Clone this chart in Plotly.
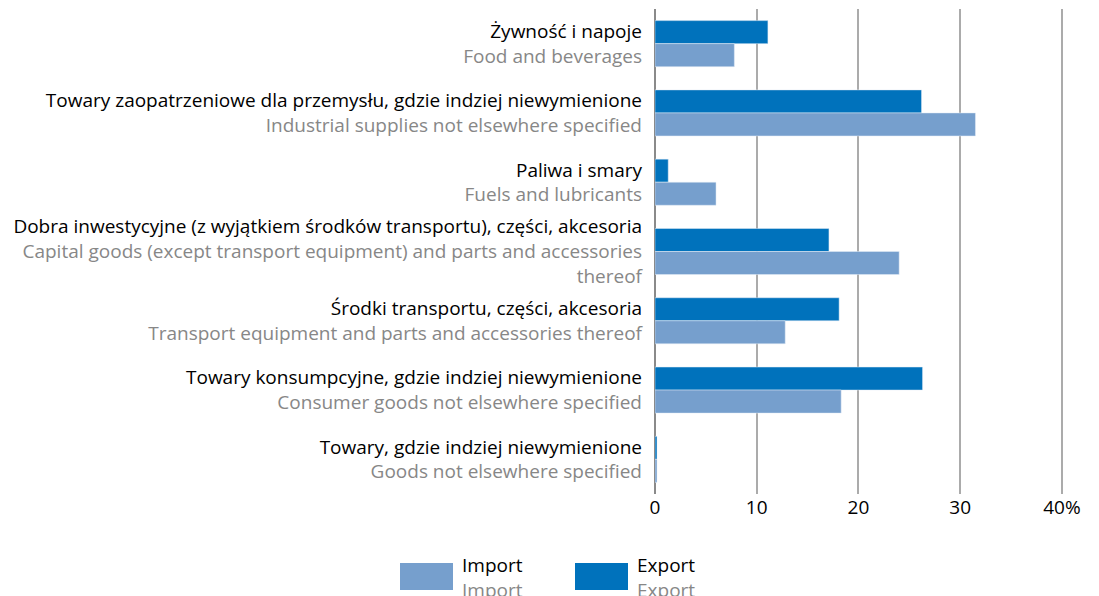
import plotly.graph_objects as go

categories_pl = [
    "Żywność i napoje",
    "Towary zaopatrzeniowe dla przemysłu, gdzie indziej niewymienione",
    "Paliwa i smary",
    "Dobra inwestycyjne (z wyjątkiem środków transportu), części, akcesoria",
    "Środki transportu, części, akcesoria",
    "Towary konsumpcyjne, gdzie indziej niewymienione",
    "Towary, gdzie indziej niewymienione",
]
categories_en = [
    "Food and beverages",
    "Industrial supplies not elsewhere specified",
    "Fuels and lubricants",
    "Capital goods (except transport equipment) and parts and accessories<br>thereof",
    "Transport equipment and parts and accessories thereof",
    "Consumer goods not elsewhere specified",
    "Goods not elsewhere specified",
]
export_vals = [11.1, 26.2, 1.3, 17.1, 18.1, 26.3, 0.2]
import_vals = [7.8, 31.5, 6.0, 24.0, 12.8, 18.3, 0.2]
x_tickvals = [0, 10, 20, 30, 40]
x_ticktext = ["0", "10", "20", "30", "40%"]
legend_pl = ["Import", "Export"]
legend_en = ["Import", "Export"]

EXPORT_C = "#0072BC"
IMPORT_C = "#769FCD"
GREY = "#878787"
FONT = "Open Sans"
FS = 19

ids = list(range(len(categories_pl)))
ticktext = [f"{p}<br><span style='color:{GREY}'>{e}</span>" for p, e in zip(categories_pl, categories_en)]

fig = go.Figure()
fig.add_trace(go.Bar(y=ids, x=export_vals, orientation="h", marker_color=EXPORT_C,
                     name="Export", showlegend=False))
fig.add_trace(go.Bar(y=ids, x=import_vals, orientation="h", marker_color=IMPORT_C,
                     name="Import", showlegend=False))

W, H = 1099, 596
L, R, T, B = 647, 41, 1, 110
pw, ph = W - L - R, H - T - B

def px_x(p):
    return (p - L) / pw

def px_y(p):
    return (H - B - p) / ph

fig.update_layout(
    width=W, height=H,
    margin=dict(l=L, r=R, t=T, b=B, autoexpand=False),
    plot_bgcolor="white", paper_bgcolor="white",
    barmode="group", bargap=0.335, bargroupgap=0,
    font=dict(family=FONT, size=FS, color="black"),
    xaxis=dict(range=[0, 40.4], tickvals=x_tickvals, ticktext=x_ticktext,
               showgrid=True, gridcolor="#ababab", gridwidth=1.5,
               zeroline=True, zerolinecolor="#8a8a8a", zerolinewidth=1.5,
               showline=False, ticks="", tickfont=dict(size=FS), automargin=False),
    yaxis=dict(tickvals=ids, ticktext=ticktext, range=[6.5, -0.5],
               showgrid=False, zeroline=False, showline=False, ticks="",
               ticklabelstandoff=12, tickfont=dict(size=FS), automargin=False),
)

# manual legend (figure-pixel coordinates)
swatch = [(392, 445, IMPORT_C), (567, 620, EXPORT_C)]
for (x0, x1, c), lp, le in zip(swatch, legend_pl, legend_en):
    fig.add_shape(type="rect", xref="paper", yref="paper",
                  x0=px_x(x0), x1=px_x(x1), y0=px_y(582), y1=px_y(555),
                  fillcolor=c, line_width=0)
    fig.add_annotation(xref="paper", yref="paper", x=px_x(x1 + 7), y=px_y(542),
                       xanchor="left", yanchor="top", showarrow=False, align="left",
                       text=f"{lp}<br><span style='color:{GREY}'>{le}</span>",
                       font=dict(size=FS, family=FONT))

fig.write_html("out.html")
